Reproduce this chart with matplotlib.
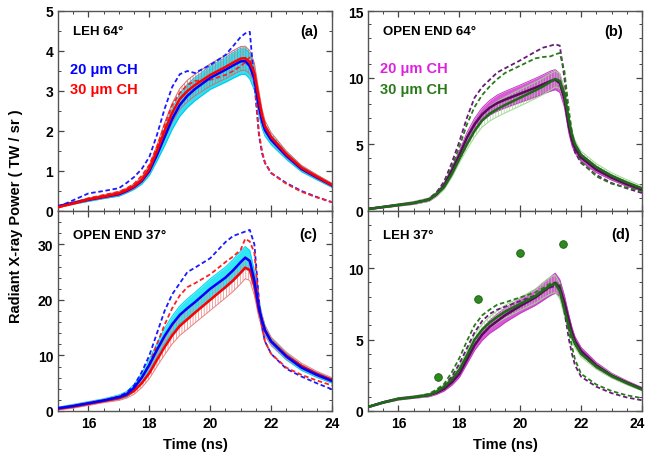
import numpy as np
import matplotlib
matplotlib.use("Agg")
import matplotlib.pyplot as plt
from matplotlib.ticker import MultipleLocator
from matplotlib.transforms import ScaledTranslation

plt.rcParams['font.family'] = ['Liberation Sans', 'DejaVu Sans']
plt.rcParams['font.weight'] = 'bold'
plt.rcParams['hatch.linewidth'] = 0.5

# time grid (ns)
T = [15, 15.5, 16, 16.5, 17, 17.25, 17.5, 17.75, 18, 18.25, 18.5, 18.75, 19, 19.25, 19.5,
     20, 20.5, 20.75, 21, 21.15, 21.3, 21.45, 21.6, 21.7, 21.8, 22, 22.5, 23, 23.5, 24]

# (a) LEH 64
a20 = [0.12, 0.2, 0.28, 0.35, 0.42, 0.5, 0.6, 0.75, 1.0, 1.4, 1.85, 2.3, 2.65, 2.88, 3.05,
       3.33, 3.53, 3.64, 3.74, 3.75, 3.62, 3.3, 2.6, 2.25, 2.02, 1.78, 1.38, 1.05, 0.84, 0.64]
a30 = [0.1, 0.19, 0.29, 0.36, 0.44, 0.52, 0.62, 0.78, 1.05, 1.5, 2.0, 2.45, 2.8, 3.0, 3.15,
       3.4, 3.6, 3.71, 3.81, 3.82, 3.72, 3.45, 2.8, 2.4, 2.12, 1.85, 1.42, 1.08, 0.86, 0.65]
a20_err = [0.02, 0.03, 0.04, 0.04, 0.05, 0.05, 0.06, 0.08, 0.11, 0.15, 0.22, 0.26, 0.28, 0.29, 0.29,
           0.29, 0.31, 0.32, 0.33, 0.33, 0.32, 0.28, 0.22, 0.18, 0.15, 0.12, 0.09, 0.07, 0.06, 0.05]
a30_err = [0.02, 0.03, 0.03, 0.04, 0.05, 0.05, 0.06, 0.07, 0.1, 0.14, 0.2, 0.24, 0.26, 0.27, 0.27,
           0.28, 0.29, 0.3, 0.3, 0.3, 0.29, 0.25, 0.2, 0.16, 0.14, 0.11, 0.08, 0.06, 0.05, 0.04]
a20_sim = [0.1, 0.27, 0.44, 0.5, 0.57, 0.7, 0.85, 1.05, 1.35, 1.9, 2.55, 3.1, 3.42, 3.5, 3.45,
           3.65, 3.9, 4.12, 4.35, 4.44, 4.48, 3.2, 1.9, 1.45, 1.2, 0.95, 0.7, 0.5, 0.35, 0.22]
a30_sim = [0.08, 0.2, 0.32, 0.4, 0.48, 0.56, 0.68, 0.88, 1.15, 1.6, 2.15, 2.65, 2.95, 3.15, 3.25,
           3.28, 3.4, 3.5, 3.62, 3.72, 3.84, 3.35, 1.95, 1.5, 1.2, 0.95, 0.68, 0.48, 0.34, 0.22]

# (b) OPEN END 64
b20 = [0.15, 0.3, 0.45, 0.6, 0.85, 1.25, 1.9, 3.0, 4.2, 5.5, 6.5, 7.25, 7.75, 8.1, 8.35,
       8.8, 9.25, 9.5, 9.75, 9.85, 9.6, 8.4, 6.3, 5.3, 4.7, 4.0, 3.1, 2.5, 2.0, 1.6]
b30 = [0.15, 0.3, 0.45, 0.6, 0.85, 1.25, 1.8, 2.75, 3.9, 5.0, 6.0, 6.8, 7.3, 7.65, 7.95,
       8.5, 9.05, 9.35, 9.7, 9.9, 9.75, 8.8, 6.8, 5.7, 5.0, 4.2, 3.3, 2.65, 2.15, 1.7]
b20_err = [0.05, 0.06, 0.08, 0.1, 0.12, 0.15, 0.2, 0.25, 0.3, 0.38, 0.45, 0.5, 0.55, 0.6, 0.62,
           0.65, 0.7, 0.72, 0.75, 0.75, 0.7, 0.6, 0.5, 0.42, 0.35, 0.3, 0.22, 0.18, 0.15, 0.12]
b30_err = [0.05, 0.06, 0.08, 0.1, 0.12, 0.15, 0.2, 0.25, 0.3, 0.38, 0.45, 0.5, 0.55, 0.58, 0.6,
           0.62, 0.62, 0.62, 0.62, 0.6, 0.55, 0.5, 0.4, 0.35, 0.3, 0.28, 0.25, 0.22, 0.2, 0.18]
b20_sim = [0.15, 0.3, 0.45, 0.6, 0.9, 1.4, 2.2, 3.6, 5.2, 7.0, 8.5, 9.3, 9.85, 10.4, 10.7,
           11.3, 11.95, 12.25, 12.4, 12.5, 12.4, 10.0, 6.8, 5.3, 4.4, 3.6, 2.7, 2.1, 1.7, 1.35]
b30_sim = [0.15, 0.3, 0.45, 0.6, 0.9, 1.35, 2.0, 3.3, 4.8, 6.5, 7.8, 8.7, 9.35, 9.9, 10.35,
           10.9, 11.45, 11.55, 11.6, 11.75, 11.85, 10.5, 7.5, 5.9, 4.8, 3.7, 2.6, 2.05, 1.75, 1.5]

# (c) OPEN END 37
c20 = [0.5, 0.9, 1.4, 1.9, 2.5, 3.0, 4.2, 6.0, 8.3, 11.0, 13.5, 15.6, 17.3, 18.5, 19.6,
       22.0, 24.0, 25.3, 26.8, 27.6, 27.0, 23.5, 18.5, 16.3, 14.5, 12.5, 9.8, 7.8, 6.5, 5.4]
c30 = [0.4, 0.8, 1.3, 1.8, 2.3, 2.8, 3.6, 5.0, 6.8, 9.2, 11.5, 13.6, 15.3, 16.5, 17.7,
       20.0, 22.3, 23.5, 24.9, 25.8, 25.4, 22.5, 18.0, 16.2, 14.5, 12.6, 10.0, 8.1, 6.7, 5.6]
c20_err = [0.2, 0.3, 0.3, 0.3, 0.4, 0.5, 0.6, 0.8, 1.0, 1.2, 1.4, 1.5, 1.6, 1.7, 1.75,
           1.8, 1.9, 1.95, 2.0, 2.0, 1.9, 1.7, 1.3, 1.1, 0.9, 0.7, 0.6, 0.5, 0.45, 0.4]
c30_err = [0.2, 0.3, 0.3, 0.3, 0.4, 0.5, 0.6, 0.8, 1.0, 1.2, 1.4, 1.55, 1.7, 1.8, 1.85,
           1.9, 1.95, 2.0, 2.0, 2.0, 1.9, 1.7, 1.3, 1.1, 0.9, 0.7, 0.6, 0.5, 0.45, 0.4]
c20_sim = [0.5, 0.9, 1.4, 1.9, 2.6, 3.3, 4.6, 7.0, 10.0, 14.0, 18.0, 21.0, 23.0, 25.0, 25.8,
           27.5, 30.4, 31.5, 32.0, 32.3, 32.6, 30.0, 20.0, 15.0, 12.5, 10.3, 7.6, 6.2, 5.0, 3.9]
c30_sim = [0.4, 0.8, 1.3, 1.8, 2.4, 3.0, 4.0, 6.0, 8.5, 12.0, 15.5, 18.5, 20.8, 22.3, 23.0,
           24.6, 26.8, 27.8, 29.0, 31.0, 30.5, 28.5, 19.5, 15.0, 12.5, 10.3, 7.8, 6.5, 5.5, 4.6]

# (d) LEH 37
d20 = [0.28, 0.6, 0.85, 0.97, 1.1, 1.28, 1.55, 2.0, 2.6, 3.6, 4.6, 5.35, 5.9, 6.3, 6.7,
       7.35, 7.95, 8.35, 8.75, 8.95, 8.6, 7.6, 6.3, 5.5, 4.9, 4.2, 3.2, 2.5, 2.0, 1.55]
d30 = [0.28, 0.6, 0.85, 0.97, 1.12, 1.35, 1.7, 2.2, 2.9, 3.9, 5.0, 5.7, 6.2, 6.6, 6.95,
       7.5, 8.05, 8.45, 8.8, 8.9, 8.4, 7.1, 5.9, 5.2, 4.7, 4.0, 3.1, 2.45, 1.95, 1.5]
d20_err = [0.05, 0.06, 0.08, 0.08, 0.1, 0.12, 0.15, 0.2, 0.25, 0.3, 0.35, 0.4, 0.45, 0.5, 0.5,
           0.5, 0.55, 0.6, 0.65, 0.7, 0.6, 0.5, 0.4, 0.35, 0.3, 0.25, 0.2, 0.15, 0.12, 0.1]
d30_err = [0.05, 0.06, 0.08, 0.08, 0.1, 0.12, 0.15, 0.2, 0.25, 0.3, 0.35, 0.38, 0.4, 0.42, 0.45,
           0.45, 0.5, 0.55, 0.6, 0.6, 0.55, 0.45, 0.35, 0.3, 0.28, 0.22, 0.18, 0.15, 0.12, 0.1]
d20_sim = [0.3, 0.6, 0.85, 0.97, 1.15, 1.4, 1.75, 2.4, 3.3, 4.4, 5.5, 6.3, 6.8, 7.1, 7.3,
           7.7, 8.1, 8.4, 8.65, 8.75, 8.8, 7.0, 5.0, 4.0, 3.2, 2.4, 1.7, 1.25, 0.95, 0.75]
d30_sim = [0.3, 0.6, 0.85, 0.97, 1.2, 1.5, 1.9, 2.7, 3.7, 4.9, 6.0, 6.7, 7.1, 7.45, 7.6,
           7.95, 8.3, 8.6, 8.95, 9.0, 8.9, 7.4, 5.6, 4.5, 3.6, 2.6, 1.85, 1.4, 1.1, 0.9]
d_pts_t = [17.31, 18.60, 19.99, 21.40]
d_pts_v = [2.36, 7.86, 11.03, 11.71]

x_ticks = [16, 18, 20, 22, 24]

T = np.array(T)

fig = plt.figure(figsize=(6.47, 4.64), dpi=100)
W, H = 647, 464
def add_ax(x0, y0):
    return fig.add_axes([x0 / W, (H - y0 - 200) / H, 274 / W, 200 / H])

ax_a = add_ax(58, 12)
ax_b = add_ax(368, 12)
ax_c = add_ax(58, 212)
ax_d = add_ax(368, 212)

dash = (0, (2.5, 1.5))


def band_fill(ax, m, e, color, edge):
    m, e = np.array(m), np.array(e)
    ax.fill_between(T, m - e, m + e, color=color, lw=0, zorder=1)
    ax.plot(T, m - e, color=edge, lw=0.7, zorder=1.5)
    ax.plot(T, m + e, color=edge, lw=0.7, zorder=1.5)


def band_hatch(ax, m, e, color):
    m, e = np.array(m), np.array(e)
    ax.fill_between(T, m - e, m + e, facecolor='none', edgecolor=color,
                    hatch='||||||', lw=0, zorder=2)
    ax.plot(T, m - e, color=color, lw=0.7, zorder=2)
    ax.plot(T, m + e, color=color, lw=0.7, zorder=2)


# (a)
band_fill(ax_a, a20, a20_err, '#2fe0f0', '#00c8f0')
band_hatch(ax_a, a30, a30_err, '#d07070')
ax_a.plot(T, a20_sim, color='#1a1aff', lw=1.3, ls=dash, zorder=3)
ax_a.plot(T, a30_sim, color='#ff2020', lw=1.3, ls=dash, zorder=3)
ax_a.plot(T, a20, color='#0000ff', lw=1.8, zorder=4)
ax_a.plot(T, a30, color='#ff0000', lw=1.8, zorder=5)

# (b)
band_fill(ax_b, b20, b20_err, '#d858d8', '#c040c0')
band_hatch(ax_b, b30, b30_err, '#9fd88f')
ax_b.plot(T, b20_sim, color='#6a1a78', lw=1.3, ls=dash, zorder=3)
ax_b.plot(T, b30_sim, color='#2a7a1a', lw=1.3, ls=dash, zorder=3)
ax_b.plot(T, b20, color='#5a0a5a', lw=1.8, zorder=4)
ax_b.plot(T, b30, color='#1f6a1a', lw=1.8, zorder=5)

# (c)
band_fill(ax_c, c20, c20_err, '#2fe8f5', '#00d0f0')
band_hatch(ax_c, c30, c30_err, '#e88080')
ax_c.plot(T, c20_sim, color='#1a1aff', lw=1.3, ls=dash, zorder=3)
ax_c.plot(T, c30_sim, color='#ff2020', lw=1.3, ls=dash, zorder=3)
ax_c.plot(T, c30, color='#ff0000', lw=1.8, zorder=4)
ax_c.plot(T, c20, color='#0000ff', lw=1.8, zorder=5)

# (d)
band_fill(ax_d, d20, d20_err, '#d858d8', '#c040c0')
band_hatch(ax_d, d30, d30_err, '#9fd88f')
ax_d.plot(T, d20_sim, color='#6a1a78', lw=1.3, ls=dash, zorder=3)
ax_d.plot(T, d30_sim, color='#2a7a1a', lw=1.3, ls=dash, zorder=3)
ax_d.plot(T, d20, color='#5a0a5a', lw=1.8, zorder=4)
ax_d.plot(T, d30, color='#1f6a1a', lw=1.8, zorder=5)
ax_d.plot(d_pts_t, d_pts_v, ls='none', marker='o', ms=5.5, mfc='#2d8a1e',
          mec='#1a5a10', mew=0.6, zorder=6)

limits = {ax_a: (5, 1, 0.5), ax_b: (15, 5, 1), ax_c: (36, 10, 2), ax_d: (14, 5, 1)}
for ax, (ymax, maj, mnr) in limits.items():
    ax.set_xlim(15, 24)
    ax.set_ylim(0, ymax)
    ax.set_xticks(x_ticks)
    ax.xaxis.set_minor_locator(MultipleLocator(0.5))
    ax.yaxis.set_major_locator(MultipleLocator(maj))
    ax.yaxis.set_minor_locator(MultipleLocator(mnr))
    ax.tick_params(which='both', direction='in', top=True, right=True,
                   color='#444444', labelsize=10)
    ax.tick_params(which='major', length=4, width=0.9)
    ax.tick_params(which='minor', length=2, width=0.7)
    for sp in ax.spines.values():
        sp.set_color('#555555')
        sp.set_linewidth(1.0)

for ax in (ax_a, ax_b):
    ax.tick_params(labelbottom=False)
for ax in (ax_c, ax_d):
    ax.set_xlabel('Time (ns)', fontsize=10.5, fontweight='bold', labelpad=5)

# last label of (d) sits at the figure edge: nudge it in a little
last = ax_d.get_xticklabels()[-1]
last.set_transform(last.get_transform() + ScaledTranslation(-0.05, 0, fig.dpi_scale_trans))

fig.text(0.024, 0.535, 'Radiant X-ray Power ( TW / sr )', rotation=90,
         ha='center', va='center', fontsize=10.5, fontweight='bold')

tkw = dict(fontsize=9.5, fontweight='bold', va='center')
pkw = dict(fontsize=10.5, fontweight='bold', va='center', ha='right')
ax_a.text(0.055, 0.90, 'LEH 64°', transform=ax_a.transAxes, **tkw)
ax_a.text(0.95, 0.90, '(a)', transform=ax_a.transAxes, **pkw)
ax_a.text(0.044, 0.71, '20 μm CH', color='#0000ff', transform=ax_a.transAxes,
          fontsize=10.5, fontweight='bold', va='center')
ax_a.text(0.044, 0.61, '30 μm CH', color='#ff0000', transform=ax_a.transAxes,
          fontsize=10.5, fontweight='bold', va='center')

ax_b.text(0.055, 0.90, 'OPEN END 64°', transform=ax_b.transAxes, **tkw)
ax_b.text(0.93, 0.90, '(b)', transform=ax_b.transAxes, **pkw)
ax_b.text(0.044, 0.715, '20 μm CH', color='#e020e0', transform=ax_b.transAxes,
          fontsize=10.5, fontweight='bold', va='center')
ax_b.text(0.044, 0.61, '30 μm CH', color='#2a7a1a', transform=ax_b.transAxes,
          fontsize=10.5, fontweight='bold', va='center')

ax_c.text(0.055, 0.88, 'OPEN END 37°', transform=ax_c.transAxes, **tkw)
ax_c.text(0.945, 0.885, '(c)', transform=ax_c.transAxes, **pkw)
ax_d.text(0.055, 0.88, 'LEH 37°', transform=ax_d.transAxes, **tkw)
ax_d.text(0.955, 0.885, '(d)', transform=ax_d.transAxes, **pkw)

fig.savefig('out.png', dpi=100)
